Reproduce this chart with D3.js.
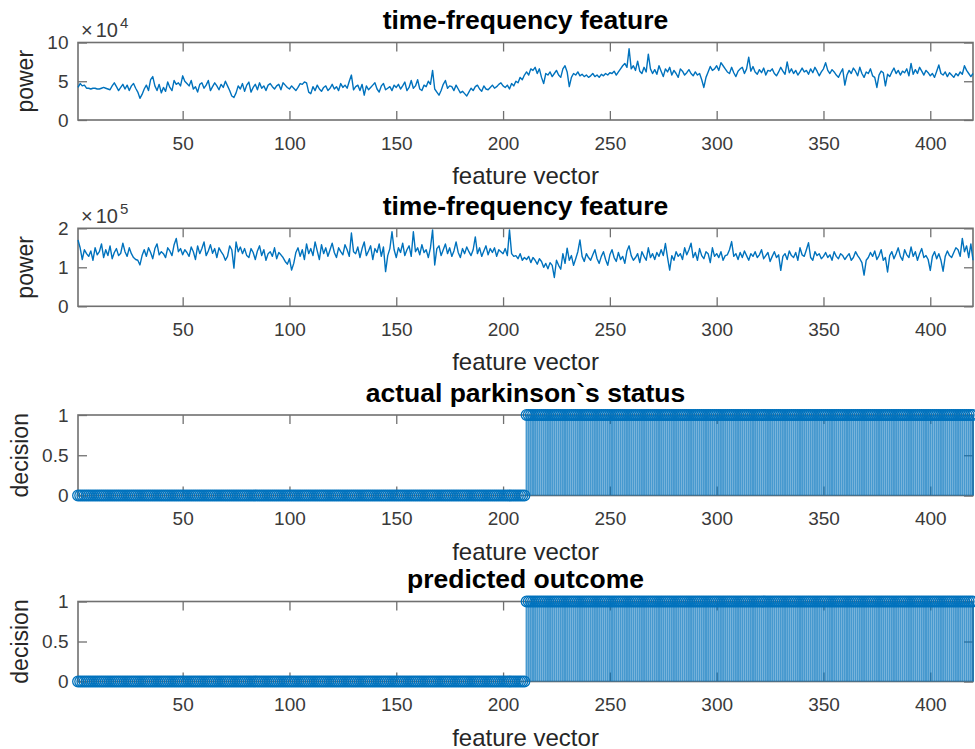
<!DOCTYPE html>
<html><head><meta charset="utf-8">
<script src="https://cdn.jsdelivr.net/npm/d3@7"></script>
<style>
body{margin:0;background:#fff}
svg{display:block}
text{font-family:"Liberation Sans",Arial,Helvetica,sans-serif}
</style>
</head><body><svg id="c" width="975" height="749"></svg>
<script>
// ---------- DATA ----------
const xTickValues = [50,100,150,200,250,300,350,400];
const titles = ["time-frequency feature","time-frequency feature","actual parkinson`s status","predicted outcome"];
const yLabels = ["power","power","decision","decision"];
const xLabel = "feature vector";
const yTicks1 = [0,50,100];  const yTickLabels1 = ["0","5","10"];   // values in 1e3, shown ×10^4
const yTicks2 = [0,100,200]; const yTickLabels2 = ["0","1","2"];    // values in 1e3, shown ×10^5
const yTicks3 = [0,0.5,1];   const yTickLabels3 = ["0","0.5","1"];
const exponent1 = "4", exponent2 = "5";

// power of feature 1 (units of 1e3), samples 1..420
const power1 = [
42,47,44,45,41,41,40,41,41,40, 40,41,42,41,40,39,44,48,43,38,
42,46,40,45,38,44,47,41,36,28, 33,40,45,38,52,56,44,38,46,35,
42,37,49,42,38,51,46,48,44,57, 50,47,44,51,40,43,36,46,48,41,
45,51,38,43,48,44,39,46,42,50, 44,38,31,29,35,44,40,47,37,45,
49,36,42,46,39,48,41,44,38,45, 47,43,40,44,46,39,48,45,42,40,
44,41,38,42,47,46,49,48,36,34, 43,38,45,40,37,42,44,38,41,46,
40,43,38,47,42,45,41,50,58,39, 43,45,38,46,32,44,39,42,45,48,
40,36,44,47,39,41,43,38,45,42, 46,40,44,49,38,42,51,41,44,52,
40,38,45,43,50,46,64,40,36,32, 38,46,51,41,44,43,38,45,40,35,
37,34,31,36,41,38,43,45,40,37, 44,40,39,42,45,41,43,46,48,44,
42,45,40,47,44,50,48,55,52,58, 62,58,66,64,68,60,66,55,47,60,
58,62,56,60,64,58,55,66,70,62, 43,55,60,58,62,57,59,56,58,55,
57,60,56,58,55,59,57,60,58,61, 60,63,58,62,66,70,73,68,92,66,
70,64,76,63,60,68,62,85,66,60, 65,59,70,63,56,66,62,68,58,64,
60,55,66,63,58,61,65,60,57,62, 58,60,52,42,55,62,69,64,66,70,
64,74,70,66,62,60,68,61,56,63, 66,68,60,66,81,63,69,62,59,65,
61,67,58,64,63,66,60,57,62,68, 63,59,75,61,66,60,64,58,62,67,
62,64,59,66,61,68,63,57,62,66, 74,64,60,65,62,58,55,61,66,45,
58,64,60,67,63,57,68,60,55,62, 60,66,57,55,42,58,63,61,44,59,
56,62,67,60,64,58,63,61,66,57, 73,59,65,60,68,63,58,64,61,57,
60,55,63,71,60,58,62,56,61,58, 55,60,57,62,59,70,64,60,56,60
];

// power of feature 2 (units of 1e3), samples 1..420
const power2 = [
170,150,120,145,135,128,142,118,150,132, 140,160,125,145,130,155,122,138,148,130,
136,162,140,128,150,135,125,120,118,106, 130,145,128,150,138,122,148,160,132,140,
135,125,150,142,130,158,174,140,148,132, 145,138,128,152,140,120,155,135,148,165,
130,142,158,136,148,125,150,140,132,118, 128,155,145,98,165,140,152,135,148,130,
125,148,138,120,142,155,130,145,118,135, 140,128,150,122,138,132,125,115,108,122,
93,110,138,150,128,145,120,160,135,148, 130,165,142,120,158,135,150,128,145,162,
138,125,150,140,132,158,145,128,188,140, 135,152,125,148,165,130,142,155,120,148,
138,160,128,152,89,130,148,191,145,125, 150,138,162,130,145,155,128,191,140,150,
132,158,138,145,125,150,196,106,148,155, 130,145,160,135,150,128,142,165,138,125,
148,135,152,140,130,145,178,135,150,128, 142,155,132,148,138,150,128,145,140,135,
148,130,196,135,128,130,122,135,118,125, 120,128,112,125,118,108,122,115,100,110,
96,112,105,74,118,105,95,135,110,149, 118,130,105,122,140,170,128,115,135,125,
118,132,145,122,110,128,140,120,105,132, 145,125,115,138,120,128,110,142,155,130,
118,125,135,112,140,128,118,150,125,135, 120,138,128,145,130,161,125,93,130,118,
140,128,135,120,150,132,145,162,125,138, 118,148,130,122,140,135,112,150,128,135,
125,140,118,130,132,145,166,128,135,120, 138,125,142,130,118,135,128,140,125,132,
145,122,130,138,115,128,140,125,132,92, 128,135,120,142,130,125,138,118,150,132,
128,145,163,125,118,140,130,135,122,128, 138,125,132,118,140,128,122,135,130,120,
128,135,118,125,140,130,122,112,80,118, 125,138,128,142,120,130,145,118,125,88,
130,140,122,135,150,128,118,145,132,125, 152,128,140,118,135,148,125,130,120,92,
128,140,122,135,118,90,128,142,130,125, 138,150,145,128,174,140,155,125,160,118
];

// actual status (samples 1..420)
const actualStatus = [
0,0,0,0,0,0,0,0,0,0,0,0,0,0,0,0,0,0,0,0, 0,0,0,0,0,0,0,0,0,0,0,0,0,0,0,0,0,0,0,0,
0,0,0,0,0,0,0,0,0,0,0,0,0,0,0,0,0,0,0,0, 0,0,0,0,0,0,0,0,0,0,0,0,0,0,0,0,0,0,0,0,
0,0,0,0,0,0,0,0,0,0,0,0,0,0,0,0,0,0,0,0, 0,0,0,0,0,0,0,0,0,0,0,0,0,0,0,0,0,0,0,0,
0,0,0,0,0,0,0,0,0,0,0,0,0,0,0,0,0,0,0,0, 0,0,0,0,0,0,0,0,0,0,0,0,0,0,0,0,0,0,0,0,
0,0,0,0,0,0,0,0,0,0,0,0,0,0,0,0,0,0,0,0, 0,0,0,0,0,0,0,0,0,0,0,0,0,0,0,0,0,0,0,0,
0,0,0,0,0,0,0,0,0,0,
1,1,1,1,1,1,1,1,1,1,
1,1,1,1,1,1,1,1,1,1,1,1,1,1,1,1,1,1,1,1, 1,1,1,1,1,1,1,1,1,1,1,1,1,1,1,1,1,1,1,1,
1,1,1,1,1,1,1,1,1,1,1,1,1,1,1,1,1,1,1,1, 1,1,1,1,1,1,1,1,1,1,1,1,1,1,1,1,1,1,1,1,
1,1,1,1,1,1,1,1,1,1,1,1,1,1,1,1,1,1,1,1, 1,1,1,1,1,1,1,1,1,1,1,1,1,1,1,1,1,1,1,1,
1,1,1,1,1,1,1,1,1,1,1,1,1,1,1,1,1,1,1,1, 1,1,1,1,1,1,1,1,1,1,1,1,1,1,1,1,1,1,1,1,
1,1,1,1,1,1,1,1,1,1,1,1,1,1,1,1,1,1,1,1, 1,1,1,1,1,1,1,1,1,1,1,1,1,1,1,1,1,1,1,1
];

// predicted outcome (samples 1..420)
const predictedStatus = [
0,0,0,0,0,0,0,0,0,0,0,0,0,0,0,0,0,0,0,0, 0,0,0,0,0,0,0,0,0,0,0,0,0,0,0,0,0,0,0,0,
0,0,0,0,0,0,0,0,0,0,0,0,0,0,0,0,0,0,0,0, 0,0,0,0,0,0,0,0,0,0,0,0,0,0,0,0,0,0,0,0,
0,0,0,0,0,0,0,0,0,0,0,0,0,0,0,0,0,0,0,0, 0,0,0,0,0,0,0,0,0,0,0,0,0,0,0,0,0,0,0,0,
0,0,0,0,0,0,0,0,0,0,0,0,0,0,0,0,0,0,0,0, 0,0,0,0,0,0,0,0,0,0,0,0,0,0,0,0,0,0,0,0,
0,0,0,0,0,0,0,0,0,0,0,0,0,0,0,0,0,0,0,0, 0,0,0,0,0,0,0,0,0,0,0,0,0,0,0,0,0,0,0,0,
0,0,0,0,0,0,0,0,0,0,
1,1,1,1,1,1,1,1,1,1,
1,1,1,1,1,1,1,1,1,1,1,1,1,1,1,1,1,1,1,1, 1,1,1,1,1,1,1,1,1,1,1,1,1,1,1,1,1,1,1,1,
1,1,1,1,1,1,1,1,1,1,1,1,1,1,1,1,1,1,1,1, 1,1,1,1,1,1,1,1,1,1,1,1,1,1,1,1,1,1,1,1,
1,1,1,1,1,1,1,1,1,1,1,1,1,1,1,1,1,1,1,1, 1,1,1,1,1,1,1,1,1,1,1,1,1,1,1,1,1,1,1,1,
1,1,1,1,1,1,1,1,1,1,1,1,1,1,1,1,1,1,1,1, 1,1,1,1,1,1,1,1,1,1,1,1,1,1,1,1,1,1,1,1,
1,1,1,1,1,1,1,1,1,1,1,1,1,1,1,1,1,1,1,1, 1,1,1,1,1,1,1,1,1,1,1,1,1,1,1,1,1,1,1,1
];

// ---------- DRAW ----------
const BLUE = "#0072BD";
const AX = "#707070";
const TXT = "#3a3a3a";
const FONT = '"Liberation Sans",Arial,sans-serif';
const svg = d3.select("#c");
const X0 = 78, X1 = 973;
const x = d3.scaleLinear().domain([1, 420]).range([X0, X1]);

const panels = [
  {top:42.5,  bottom:120,   domain:[0,100], ticks:yTicks1, labels:yTickLabels1, exp:exponent1, kind:"line", data:power1, ylabX:33},
  {top:228.3, bottom:306.3, domain:[0,200], ticks:yTicks2, labels:yTickLabels2, exp:exponent2, kind:"line", data:power2, ylabX:33},
  {top:415,   bottom:495.5, domain:[0,1],   ticks:yTicks3, labels:yTickLabels3, exp:null, kind:"stem", data:actualStatus, ylabX:28},
  {top:601.5, bottom:681.5, domain:[0,1],   ticks:yTicks3, labels:yTickLabels3, exp:null, kind:"stem", data:predictedStatus, ylabX:28}
];

panels.forEach((p, k) => {
  const y = d3.scaleLinear().domain(p.domain).range([p.bottom, p.top]);
  const g = svg.append("g");
  const axes = g.append("g").attr("color", AX);

  const bottom = axes.append("g").attr("transform", `translate(0,${p.bottom})`)
    .call(d3.axisBottom(x).tickValues(xTickValues).tickSize(-9).tickSizeOuter(0))
    .attr("font-size", 19).attr("font-family", FONT);
  bottom.selectAll("text").attr("y", 29.5).attr("dy", null).attr("fill", TXT);
  axes.append("g").attr("transform", `translate(0,${p.top})`)
    .call(d3.axisTop(x).tickValues(xTickValues).tickSize(-9).tickSizeOuter(0).tickFormat(""));
  const left = axes.append("g").attr("transform", `translate(${X0},0)`)
    .call(d3.axisLeft(y).tickValues(p.ticks).tickFormat((d,i)=>p.labels[i]).tickSize(-9).tickSizeOuter(0).tickPadding(9.5))
    .attr("font-size", 19).attr("font-family", FONT);
  left.selectAll("text").attr("fill", TXT);
  axes.append("g").attr("transform", `translate(${X1},0)`)
    .call(d3.axisRight(y).tickValues(p.ticks).tickSize(-9).tickSizeOuter(0).tickFormat(""));
  axes.selectAll(".domain").remove();
  axes.selectAll(".tick line").attr("stroke-width", 1.3);
  axes.append("rect").attr("x", X0).attr("y", p.top).attr("width", X1 - X0).attr("height", p.bottom - p.top)
    .attr("fill", "none").attr("stroke", AX).attr("stroke-width", 1.6);

  // data
  if (p.kind === "line") {
    const line = d3.line().x((d,i)=>x(i+1)).y(d=>y(d));
    g.append("path").datum(p.data).attr("d", line).attr("fill","none")
      .attr("stroke", BLUE).attr("stroke-width", 1.4).attr("stroke-linejoin","round");
  } else {
    g.append("g").selectAll("line").data(p.data).join("line")
      .attr("x1",(d,i)=>x(i+1)).attr("x2",(d,i)=>x(i+1))
      .attr("y1", y(0)).attr("y2", d=>y(d))
      .attr("stroke", BLUE).attr("stroke-width", 2).attr("stroke-opacity", 0.72);
    g.append("g").selectAll("circle").data(p.data).join("circle")
      .attr("cx",(d,i)=>x(i+1)).attr("cy", d=>y(d)).attr("r", 5.3)
      .attr("fill","none").attr("stroke", BLUE).attr("stroke-width", 1.3);
  }

  // exponent
  if (p.exp) {
    const t = g.append("text").attr("x", X0 + 3).attr("y", p.top - 5.5)
      .attr("font-size", 20).attr("fill", TXT);
    t.append("tspan").text("×");
    t.append("tspan").attr("dx", 3).text("10");
    t.append("tspan").attr("font-size", 15).attr("dx", 2).attr("dy", -9).text(p.exp);
  }

  // title
  g.append("text").attr("x", (X0 + X1) / 2).attr("y", p.top - 13.5)
    .attr("text-anchor","middle").attr("font-size", 26.5).attr("font-weight","bold").attr("fill","#000")
    .text(titles[k]);
  // x label
  g.append("text").attr("x", (X0 + X1) / 2).attr("y", p.bottom + 64)
    .attr("text-anchor","middle").attr("font-size", 24).attr("fill","#262626").text(xLabel);
  // y label
  g.append("text").attr("transform", `translate(${p.ylabX},${(p.top + p.bottom) / 2}) rotate(-90)`)
    .attr("text-anchor","middle").attr("font-size", 23).attr("fill","#262626").text(yLabels[k]);
});
</script>
</body></html>
